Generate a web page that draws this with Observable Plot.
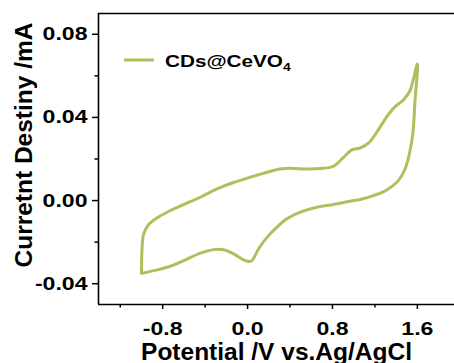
<!DOCTYPE html>
<html><head><meta charset="utf-8">
<script src="https://cdn.jsdelivr.net/npm/d3@7"></script>
<script src="https://cdn.jsdelivr.net/npm/@observablehq/plot@0.6"></script>
<style>body{margin:0;background:#fff;}#chart{width:454px;height:363px;overflow:hidden;}</style>
</head><body><div id="chart"></div>
<script>
const forwardV = [-1.0, -0.994, -0.979, -0.932, -0.853, -0.759, -0.602, -0.445, -0.288, -0.132, 0.025, 0.183, 0.308, 0.402, 0.559, 0.715, 0.809, 0.904, 0.983, 1.061, 1.139, 1.218, 1.312, 1.39, 1.468, 1.531, 1.6];
const forwardI = [-0.035, -0.0225, -0.016, -0.0115, -0.0083, -0.0056, -0.0019, 0.0016, 0.0056, 0.0087, 0.0112, 0.0136, 0.0152, 0.0155, 0.0152, 0.0155, 0.0165, 0.0208, 0.0244, 0.0253, 0.0276, 0.0329, 0.0404, 0.0452, 0.0484, 0.0529, 0.0657];
const reverseV = [1.578, 1.557, 1.525, 1.484, 1.421, 1.312, 1.186, 1.061, 0.967, 0.809, 0.653, 0.496, 0.371, 0.277, 0.183, 0.104, 0.041, 0.009, -0.038, -0.132, -0.226, -0.32, -0.445, -0.602, -0.759, -0.885, -1.0];
const reverseI = [0.0481, 0.0321, 0.0225, 0.0152, 0.0096, 0.0051, 0.0024, 0.0005, -0.0003, -0.0019, -0.0032, -0.0056, -0.0088, -0.0128, -0.0177, -0.0232, -0.0289, -0.0293, -0.0285, -0.0256, -0.0237, -0.0236, -0.0253, -0.0289, -0.0321, -0.0337, -0.035];
const xMajorTicks = [-0.8, 0.0, 0.8, 1.6];
const xMinorTicks = [-1.2, -0.4, 0.4, 1.2];
const yMajorTicks = [-0.04, 0.0, 0.04, 0.08];
const yMinorTicks = [-0.02, 0.02, 0.06];
const seriesName = "CDs@CeVO";
const seriesSub = "4";
const xTitle = "Potential /V vs.Ag/AgCl";
const yTitle = "Curretnt Destiny /mA";

const lineColor = "#b4bd5c";
const cv = [
  ...forwardV.map((v, i) => ({V: v, I: forwardI[i]})),
  ...reverseV.map((v, i) => ({V: v, I: reverseI[i]}))
];
const xDomain = [-1.405, 1.95];
const yDomain = [-0.05, 0.09];
const tickFont = 18.6;

const chart = Plot.plot({
  width: 454, height: 363,
  marginLeft: 98, marginRight: 0, marginTop: 13, marginBottom: 59,
  x: {domain: xDomain},
  y: {domain: yDomain},
  style: {fontFamily: "'Liberation Sans', Arial, sans-serif", fontWeight: "bold", color: "#000", background: "#fff", overflow: "visible"},
  marks: [
    Plot.line(cv, {x: "V", y: "I", stroke: lineColor, strokeWidth: 3, curve: "catmull-rom"}),
    Plot.ruleY([yDomain[0]], {stroke: "#000", strokeWidth: 1.6}),
    Plot.ruleY([yDomain[1]], {stroke: "#000", strokeWidth: 1.6}),
    Plot.ruleX([xDomain[0]], {stroke: "#000", strokeWidth: 1.6}),
    Plot.axisX(xMajorTicks, {tickSize: 5, tickPadding: 12.7, fontSize: tickFont, strokeWidth: 1.5, tickFormat: d => d.toFixed(1), label: null}),
    Plot.axisX(xMinorTicks, {tickSize: 3.5, strokeWidth: 1.5, tickFormat: () => "", label: null}),
    Plot.axisY(yMajorTicks, {tickSize: 6, tickPadding: 5, fontSize: tickFont, strokeWidth: 1.5, tickFormat: d => d.toFixed(2), label: null}),
    Plot.axisY(yMinorTicks, {tickSize: 3.5, strokeWidth: 1.5, tickFormat: () => "", label: null}),
    Plot.text([xTitle], {text: d => d, frameAnchor: "bottom", textAnchor: "middle", lineAnchor: "middle", dy: 47.3, fontSize: 24.5, fontWeight: "bold", fill: "#000"}),
    Plot.text([yTitle], {text: d => d, frameAnchor: "left", textAnchor: "middle", lineAnchor: "middle", rotate: -90, dx: -74.7, dy: -14, fontSize: 24.5, fontWeight: "bold", fill: "#000"})
  ]
});
document.getElementById("chart").appendChild(chart);

const svg = d3.select(chart);
// horizontally widened tick labels, as in the reference
svg.selectAll('g[aria-label="x-axis tick label"] text, g[aria-label="y-axis tick label"] text').each(function() {
  const len = this.getComputedTextLength();
  if (len > 0) {
    this.setAttribute("textLength", (len * 1.24).toFixed(1));
    this.setAttribute("lengthAdjust", "spacingAndGlyphs");
  }
});

// legend inside the plot
const lg = svg.append("g").attr("aria-label", "legend");
lg.append("line").attr("x1", 124).attr("x2", 154).attr("y1", 60).attr("y2", 60)
  .attr("stroke", lineColor).attr("stroke-width", 3);
const lt = lg.append("text")
  .attr("transform", "translate(165,66.7) scale(1.27,1)")
  .attr("text-anchor", "start")
  .attr("font-family", "'Liberation Sans', Arial, sans-serif")
  .attr("font-weight", "bold").attr("font-size", 16.3).attr("fill", "#000");
lt.append("tspan").text(seriesName);
lt.append("tspan").attr("font-size", 11).attr("dy", 4).text(seriesSub);
</script>
</body></html>
